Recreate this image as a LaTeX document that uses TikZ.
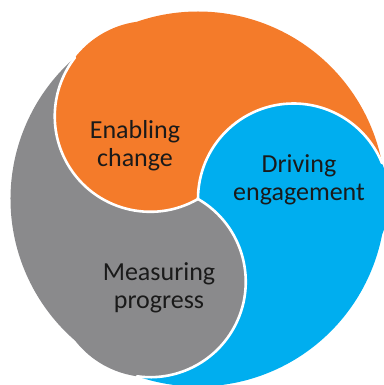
\documentclass[tikz,border=0pt]{standalone}
\usepackage{fontspec}
\setmainfont{Carlito}
\usetikzlibrary{calc}
\definecolor{swOrange}{HTML}{F47B2A}
\definecolor{swBlue}{HTML}{00AEEF}
\definecolor{swGray}{HTML}{8A8A8C}
\definecolor{swText}{HTML}{1A1A1A}
\begin{document}
\begin{tikzpicture}[x=1pt,y=1pt,
  seam/.style={draw=white, line width=2.6pt, line cap=round},
  caption/.style={align=center, font=\fontsize{26}{28}\selectfont, text=swText, inner sep=0pt}]
\useasboundingbox (-198,-186) rectangle (185,199);
% head radius (each head circle passes through the centre) and outer radius
\def\hr{95.5}
\def\oR{187.5}
\coordinate (C) at (0,0);
% orange swirl: blue head seam, outer rim, own head
\fill[swOrange] (C) arc[start angle=180, end angle=22, radius=\hr]
  -- (11:\oR) arc[start angle=11, end angle=109, radius=\oR]
  -- ($(120:\hr)+(98:\hr)$) arc[start angle=98, end angle=300, radius=\hr] -- cycle;
% gray swirl
\fill[swGray] (C) arc[start angle=300, end angle=142, radius=\hr]
  -- (131:\oR) arc[start angle=131, end angle=229, radius=\oR]
  -- ($(240:\hr)+(218:\hr)$) arc[start angle=218, end angle=420, radius=\hr] -- cycle;
% blue swirl
\fill[swBlue] (C) arc[start angle=60, end angle=-98, radius=\hr]
  -- (251:\oR) arc[start angle=251, end angle=349, radius=\oR]
  -- ($(0:\hr)+(-22:\hr)$) arc[start angle=-22, end angle=180, radius=\hr] -- cycle;
% white seams between the swirls
\draw[seam] (C) arc[start angle=180, end angle=22, radius=\hr];
\draw[seam] (C) arc[start angle=300, end angle=142, radius=\hr];
\draw[seam] (C) arc[start angle=60, end angle=-98, radius=\hr];
% captions
\node[caption] (enable) at (-63,53) {Enabling\\change};
\node[caption] (drive) at (101,19) {Driving\\engagement};
\node[caption] (measure) at (-39,-89) {Measuring\\progress};
\end{tikzpicture}
\end{document}
